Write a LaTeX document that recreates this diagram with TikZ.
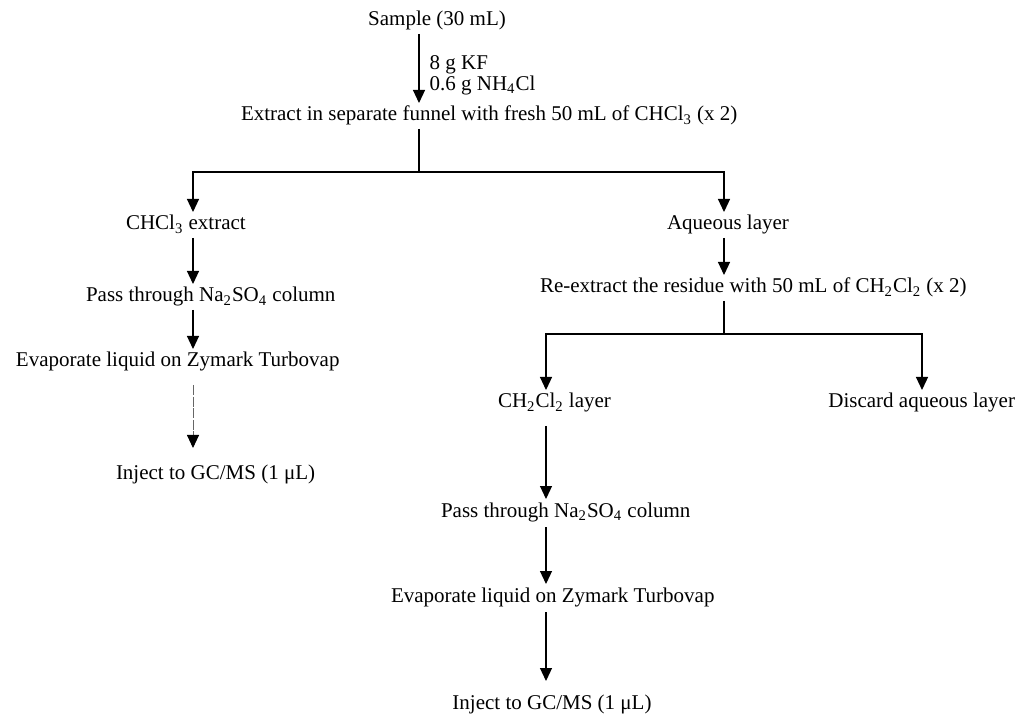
\documentclass[tikz,border=0pt]{standalone}
\usepackage{fontspec}
\setmainfont{Liberation Serif}
\usetikzlibrary{arrows.meta}
\tikzset{
  stage/.style={inner sep=0pt, outer sep=2pt, font=\fontsize{10.5}{12}\selectfont, text height=7pt, text depth=2pt},
  note/.style={inner sep=0pt, align=left, font=\fontsize{10.5}{9}\selectfont},
  flow/.style={-{Triangle[width=6pt,length=6.5pt]}, line width=0.6pt},
  faint/.style={-{Triangle[width=6pt,length=6.5pt,black]}, draw=black!60, line width=0.45pt, dash pattern=on 5pt off 0.8pt},
}
\begin{document}
\begin{tikzpicture}[x=0.5pt, y=-0.5pt]
    \useasboundingbox (0,0) rectangle (1021,715);
    % Columns
    \coordinate (colT) at (419,0);
    \coordinate (colL) at (193,0);
    \coordinate (colA) at (724,0);
    \coordinate (colC) at (546,0);
    \coordinate (colD) at (922,0);
    \coordinate (split1) at (419,172);
    \coordinate (split2) at (724,334);

    % Nodes
    \node (sample) [stage, anchor=base] at (437,26) {Sample (30 mL)};
    \node (extract) [stage, anchor=base west] at (237,121) {Extract in separate funnel with fresh 50 mL of CHCl\textsubscript{3} (x 2)};
    \node (chcl) [stage, anchor=base west] at (122,230) {CHCl\textsubscript{3} extract};
    \node (aq) [stage, anchor=base] at (728,230) {Aqueous layer};
    \node (passL) [stage, anchor=base west] at (82,302) {Pass through Na\textsubscript{2}SO\textsubscript{4} column};
    \node (evapL) [stage, anchor=base west] at (12,367) {Evaporate liquid on Zymark Turbovap};
    \node (injL) [stage, anchor=base west] at (112,480) {Inject to GC/MS (1 μL)};
    \node (reext) [stage, anchor=base west] at (536,293) {Re-extract the residue with 50 mL of CH\textsubscript{2}Cl\textsubscript{2} (x 2)};
    \node (chtwo) [stage, anchor=base west] at (494,408) {CH\textsubscript{2}Cl\textsubscript{2} layer};
    \node (discard) [stage, anchor=base east] at (1019,408) {Discard aqueous layer};
    \node (passR) [stage, anchor=base west] at (437,517) {Pass through Na\textsubscript{2}SO\textsubscript{4} column};
    \node (evapR) [stage, anchor=base west] at (387,602) {Evaporate liquid on Zymark Turbovap};
    \node (injR) [stage, anchor=base] at (552,709) {Inject to GC/MS (1 μL)};

    % Arrows
    \draw[flow] (sample.south -| colT) -- node[note, right=5pt, pos=0.6] (salts) {8 g KF\\0.6 g NH\textsubscript{4}Cl} (extract.north -| colT);
    \draw[line width=0.6pt] (extract.south -| colT) -- (split1);
    \draw[flow] (split1) -| (chcl.north -| colL);
    \draw[flow] (split1) -| (aq.north -| colA);
    \draw[flow] (chcl.south -| colL) -- (passL.north -| colL);
    \draw[flow] (passL.south -| colL) -- (evapL.north -| colL);
    \draw[faint, shorten <=5pt, shorten >=7pt] (evapL.south -| colL) -- (injL.north -| colL);
    \draw[flow] (aq.south -| colA) -- (reext.north -| colA);
    \draw[line width=0.6pt] (reext.south -| colA) -- (split2);
    \draw[flow] (split2) -| (chtwo.north -| colC);
    \draw[flow] (split2) -| (discard.north -| colD);
    \draw[flow, shorten <=5pt] (chtwo.south -| colC) -- (passR.north -| colC);
    \draw[flow, shorten <=1pt] (passR.south -| colC) -- (evapR.north -| colC);
    \draw[flow, shorten <=1pt, shorten >=5pt] (evapR.south -| colC) -- (injR.north -| colC);
\end{tikzpicture}
\end{document}
